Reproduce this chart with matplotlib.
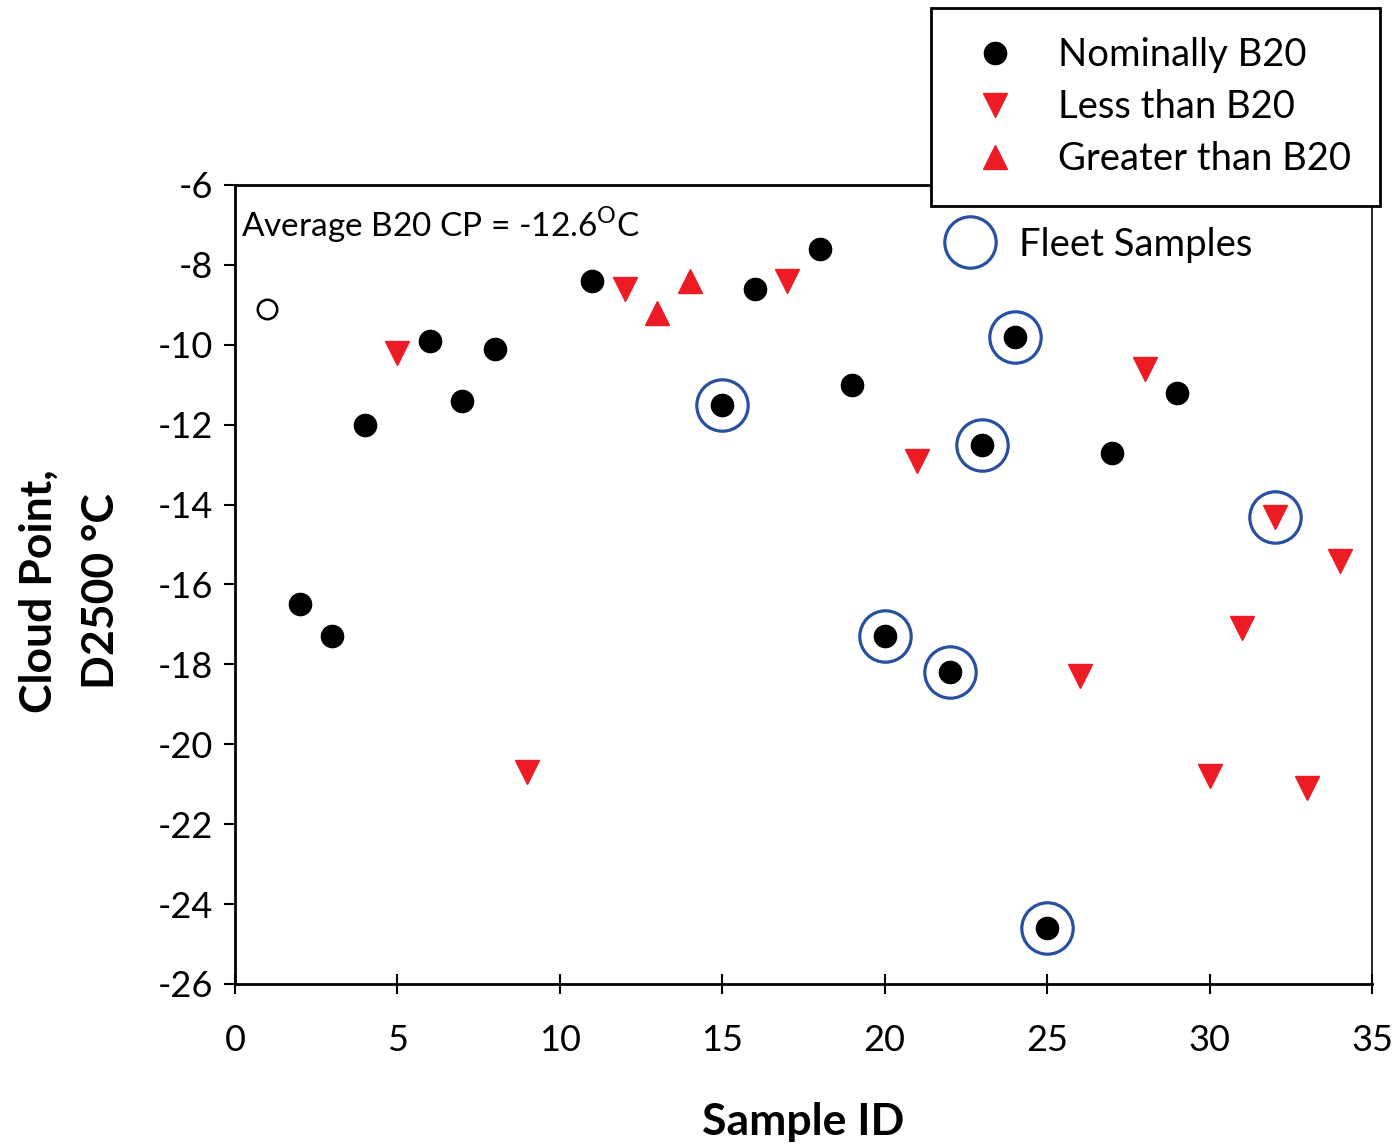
import numpy as np
import matplotlib
matplotlib.use('Agg')
import matplotlib.pyplot as plt
from matplotlib.lines import Line2D

plt.rcParams['font.family'] = ['Lato', 'DejaVu Sans']
plt.rcParams['mathtext.fontset'] = 'custom'
plt.rcParams['mathtext.rm'] = 'Lato'
plt.rcParams['axes.unicode_minus'] = False

# sample 1 (open marker)
open_id = [1]
open_cp = [-9.1]

# nominally B20
nom_id = [2, 3, 4, 6, 7, 8, 11, 15, 16, 18, 19, 20, 22, 23, 24, 25, 27, 29]
nom_cp = [-16.5, -17.3, -12.0, -9.9, -11.4, -10.1, -8.4, -11.5, -8.6, -7.6,
          -11.0, -17.3, -18.2, -12.5, -9.8, -24.6, -12.7, -11.2]

# less than B20
less_id = [5, 9, 12, 17, 21, 26, 28, 30, 31, 32, 33, 34]
less_cp = [-10.2, -20.7, -8.6, -8.4, -12.9, -18.3, -10.6, -20.8, -17.1, -14.3, -21.1, -15.4]

# greater than B20
greater_id = [13, 14]
greater_cp = [-9.2, -8.4]

# fleet samples
fleet_id = [15, 20, 22, 23, 24, 25, 32]
fleet_cp = [-11.5, -17.3, -18.2, -12.5, -9.8, -24.6, -14.3]

red = '#ed1c24'
blue = '#2850a0'

fig = plt.figure(figsize=(13.97, 11.44), dpi=100)
ax = fig.add_axes([0.1682, 0.1399, 0.8139, 0.6984])

ax.plot(open_id, open_cp, 'o', ms=14, mfc='white', mec='black', mew=1.8, ls='none')
ax.plot(nom_id, nom_cp, 'o', ms=16, color='black', ls='none', label='Nominally B20')
ax.plot(less_id, less_cp, 'v', ms=17, color=red, ls='none', label='Less than B20')
ax.plot(greater_id, greater_cp, '^', ms=17, color=red, ls='none', label='Greater than B20')
ax.plot(fleet_id, fleet_cp, 'o', ms=37, mfc='none', mec=blue, mew=2.3, ls='none')

ax.set_xlim(0, 35)
ax.set_ylim(-26, -6)
ax.set_xticks(np.arange(0, 36, 5))
ax.set_yticks(np.arange(-26, -5, 2))
ax.tick_params(labelsize=26, width=1.5)
ax.tick_params(axis='x', direction='inout', length=14, pad=22)
ax.tick_params(axis='y', direction='out', length=8, pad=8)
for s in ['left', 'bottom', 'top']:
    ax.spines[s].set_linewidth(2)
ax.spines['right'].set_linewidth(1.2)

ax.set_xlabel('Sample ID', fontsize=32, fontweight='bold', labelpad=32)
ax.set_ylabel('Cloud Point,\nD2500 \u00b0C', fontsize=32, fontweight='bold',
              linespacing=1.7)
ax.yaxis.set_label_coords(-0.100, 0.492)

ax.text(0.005, 0.975, r'Average B20 CP = -12.6$^{\mathrm{O}}$C', transform=ax.transAxes,
        fontsize=24, va='top', ha='left')

leg = fig.legend(loc='upper left', bbox_to_anchor=(0.6664, 0.993), fontsize=27.5,
                 frameon=True, fancybox=False, edgecolor='black', framealpha=1,
                 handletextpad=0.72, handlelength=1.85, borderpad=0.76,
                 labelspacing=0.42, borderaxespad=0)
leg.get_frame().set_linewidth(2)

fleet_handle = Line2D([], [], marker='o', ls='none', ms=37, mfc='none', mec=blue, mew=2.3)
fig.legend([fleet_handle], ['Fleet Samples'], loc='upper left', bbox_to_anchor=(0.675, 0.802),
           fontsize=27.5, frameon=False, borderpad=0, borderaxespad=0,
           handlelength=1.4, handletextpad=0.6)

fig.savefig('out.png', dpi=100)
